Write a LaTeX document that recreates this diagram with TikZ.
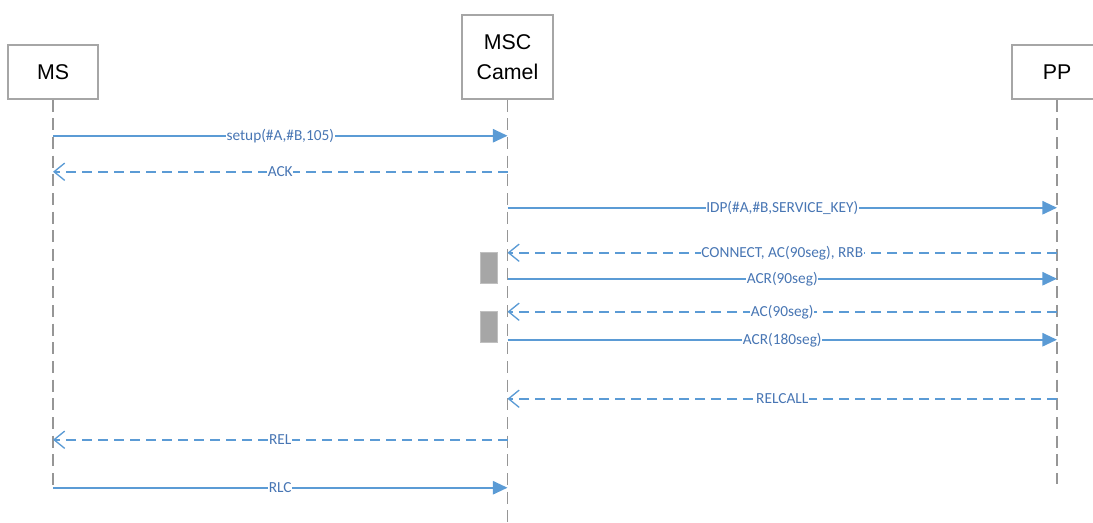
\documentclass[tikz,border=0pt]{standalone}
\usepackage{fontspec}
\setmainfont{Liberation Sans}
\newfontfamily\msgfont{Carlito}
\usetikzlibrary{arrows.meta,calc}

\definecolor{msgblue}{RGB}{91,155,213}
\definecolor{msgtext}{RGB}{72,118,180}
\definecolor{lifegray}{RGB}{150,150,150}
\definecolor{busygray}{RGB}{166,166,166}

\begin{document}
\begin{tikzpicture}[
    x=0.75pt,y=-0.75pt,
    actor/.style={rectangle,draw=lifegray!85,line width=1.1pt,fill=white,minimum width=67.5pt,minimum height=40.5pt,align=center,font=\fontsize{16}{22}\selectfont},
    lifeline/.style={draw=lifegray,line width=1.1pt,dash pattern=on 9pt off 5pt},
    call/.style={draw=msgblue,line width=1.4pt,-{Triangle[length=11pt,width=10pt]}},
    reply/.style={draw=msgblue,line width=1.4pt,dash pattern=on 7.5pt off 4.5pt,-{Straight Barb[length=8pt,width=13pt,line width=1pt]}},
    lbl/.style={fill=white,inner sep=0.5pt,text=msgtext,font=\msgfont\fontsize{11.5}{13}\selectfont},
    busy/.style={rectangle,draw=lifegray!60,line width=0.5pt,fill=busygray,minimum width=12.75pt,minimum height=23.25pt,inner sep=0pt}
]

\useasboundingbox (0,0) rectangle (1093,522);

% Actors
\node[actor] (ms) at (53,72) {MS};
\node[actor,minimum width=68.25pt,minimum height=63pt] (msc) at (507.5,57) {MSC\\Camel};
\node[actor] (pp) at (1057,72) {PP};

% Lifelines
\coordinate (msend) at ($(ms.south)+(0,388)$);
\coordinate (mscend) at ($(msc.south)+(0,423)$);
\coordinate (ppend) at ($(pp.south)+(0,384)$);
\draw[lifeline] (ms.south) -- (msend);
\draw[lifeline] (msc.south) -- (mscend);
\draw[lifeline] (pp.south) -- (ppend);

% Message rows on each lifeline
\foreach \y [count=\i] in {135,171,207,252,278,311,339,398,439,487} {
    \coordinate (ms\i) at ($(ms.south)+(0,\y-99)$);
    \coordinate (msc\i) at ($(msc.south)+(0,\y-99)$);
    \coordinate (pp\i) at ($(pp.south)+(0,\y-99)$);
}

% Activations
\node[busy] (act1) at ($(msc4)+(-18.5,15)$) {};
\node[busy] (act2) at ($(msc6)+(-19,15.5)$) {};

% Messages
\draw[call] (ms1) -- node[lbl] {setup(\#A,\#B,105)} (msc1);
\draw[reply] (msc2) -- node[lbl] {ACK} (ms2);
\draw[call] (msc3) -- node[lbl] {IDP(\#A,\#B,SERVICE\_KEY)} (pp3);
\draw[reply] (pp4) -- node[lbl] {CONNECT, AC(90seg), RRB} (msc4);
\draw[call] (msc5) -- node[lbl] {ACR(90seg)} (pp5);
\draw[reply] (pp6) -- node[lbl] {AC(90seg)} (msc6);
\draw[call] (msc7) -- node[lbl] {ACR(180seg)} (pp7);
\draw[reply] (pp8) -- node[lbl] {RELCALL} (msc8);
\draw[reply] (msc9) -- node[lbl] {REL} (ms9);
\draw[call] (ms10) -- node[lbl] {RLC} (msc10);

\end{tikzpicture}
\end{document}
